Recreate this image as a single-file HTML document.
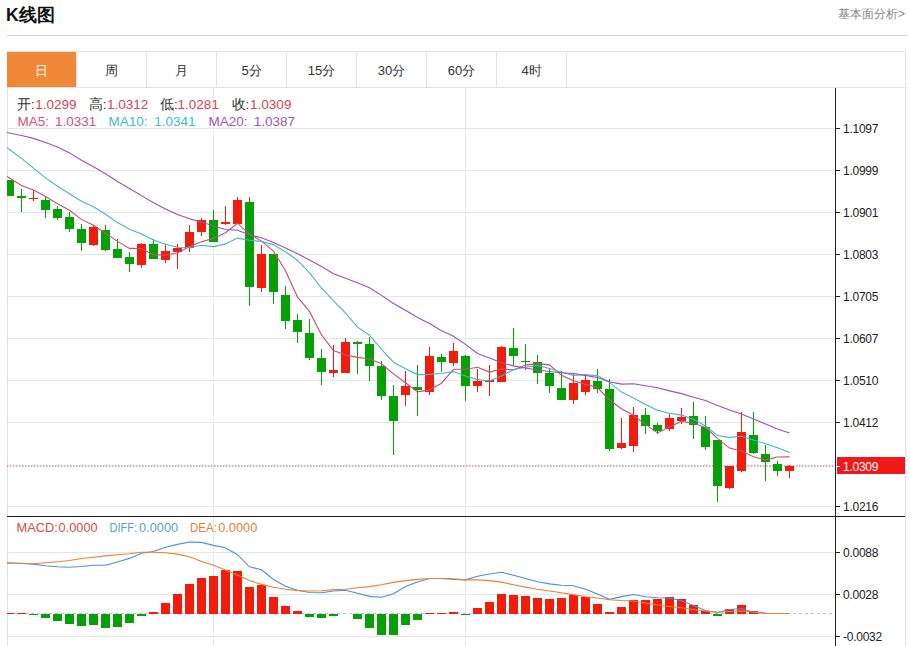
<!DOCTYPE html>
<html><head><meta charset="utf-8"><style>
html,body{margin:0;padding:0;background:#fff;width:910px;height:646px;overflow:hidden;font-family:"Liberation Sans",sans-serif;}
.title{position:absolute;left:6px;top:3px;font-size:17.5px;font-weight:bold;color:#111;line-height:24px;}
.more{position:absolute;right:5px;top:6px;font-size:12px;color:#888;line-height:16px;}
.sep{position:absolute;left:7px;top:35px;width:899px;height:1px;background:#d0d0d0;}
.tabbar{position:absolute;left:7px;top:51px;width:898px;height:35px;border:1px solid #e2e2e2;border-left:none;}
.tab{position:absolute;top:52px;width:69px;height:35px;border-right:1px solid #e2e2e2;text-align:center;line-height:38px;font-size:13px;color:#333;}
.tab.on{background:#f0883a;color:#fff;}
.box{position:absolute;left:7px;top:87px;width:897px;height:600px;border-right:1px solid #e2e2e2;border-left:1px solid #e2e2e2;}
svg{position:absolute;left:0;top:0;}
.ax{font-size:12px;fill:#222;letter-spacing:-0.25px;}
.lg{font-size:13.5px;}
.lm{font-size:12.8px;}
</style></head><body>
<div class="title">K线图</div>
<div class="more">基本面分析&gt;</div>
<div class="sep"></div>
<div class="tabbar"></div>
<div class="tab on" style="left:7px">日</div><div class="tab" style="left:77px">周</div><div class="tab" style="left:147px">月</div><div class="tab" style="left:217px">5分</div><div class="tab" style="left:287px">15分</div><div class="tab" style="left:357px">30分</div><div class="tab" style="left:427px">60分</div><div class="tab" style="left:497px">4时</div>
<div class="box"></div>
<svg width="910" height="646" viewBox="0 0 910 646" font-family="Liberation Sans, sans-serif">
<defs><clipPath id="cp"><rect x="7" y="88" width="828" height="558"/></clipPath></defs>
<g clip-path="url(#cp)">
<line x1="7" y1="128.5" x2="835" y2="128.5" stroke="#e6e6e6" stroke-width="1"/>
<line x1="7" y1="170.5" x2="835" y2="170.5" stroke="#e6e6e6" stroke-width="1"/>
<line x1="7" y1="212.5" x2="835" y2="212.5" stroke="#e6e6e6" stroke-width="1"/>
<line x1="7" y1="254.5" x2="835" y2="254.5" stroke="#e6e6e6" stroke-width="1"/>
<line x1="7" y1="296.5" x2="835" y2="296.5" stroke="#e6e6e6" stroke-width="1"/>
<line x1="7" y1="338.5" x2="835" y2="338.5" stroke="#e6e6e6" stroke-width="1"/>
<line x1="7" y1="380.5" x2="835" y2="380.5" stroke="#e6e6e6" stroke-width="1"/>
<line x1="7" y1="422.5" x2="835" y2="422.5" stroke="#e6e6e6" stroke-width="1"/>
<line x1="7" y1="506.5" x2="835" y2="506.5" stroke="#e6e6e6" stroke-width="1"/>
<line x1="7" y1="552.5" x2="835" y2="552.5" stroke="#e6e6e6" stroke-width="1"/>
<line x1="7" y1="594.5" x2="835" y2="594.5" stroke="#e6e6e6" stroke-width="1"/>
<line x1="7" y1="636.5" x2="835" y2="636.5" stroke="#e6e6e6" stroke-width="1"/>
<line x1="213.5" y1="88" x2="213.5" y2="646" stroke="#e6e6e6" stroke-width="1"/>
<line x1="465.5" y1="88" x2="465.5" y2="646" stroke="#e6e6e6" stroke-width="1"/>
<line x1="7" y1="466" x2="835" y2="466" stroke="#c04858" stroke-width="1" stroke-dasharray="1.5 1.5"/>
<rect x="9.0" y="180" width="1" height="16" fill="#05a005"/>
<rect x="5.0" y="180" width="9" height="16" fill="#05a005"/>
<rect x="21.0" y="189" width="1" height="23" fill="#05a005"/>
<rect x="17.0" y="196" width="9" height="2" fill="#05a005"/>
<rect x="33.0" y="190" width="1" height="11" fill="#f01c0c"/>
<rect x="29.0" y="198" width="9" height="1" fill="#f01c0c"/>
<rect x="45.0" y="197" width="1" height="21" fill="#05a005"/>
<rect x="41.0" y="200" width="9" height="10" fill="#05a005"/>
<rect x="57.0" y="206" width="1" height="14" fill="#05a005"/>
<rect x="53.0" y="209" width="9" height="9" fill="#05a005"/>
<rect x="69.0" y="212" width="1" height="20" fill="#05a005"/>
<rect x="65.0" y="217" width="9" height="12" fill="#05a005"/>
<rect x="81.0" y="224" width="1" height="27" fill="#05a005"/>
<rect x="77.0" y="229" width="9" height="14" fill="#05a005"/>
<rect x="93.0" y="225" width="1" height="21" fill="#f01c0c"/>
<rect x="89.0" y="227" width="9" height="18" fill="#f01c0c"/>
<rect x="105.0" y="225" width="1" height="26" fill="#05a005"/>
<rect x="101.0" y="230" width="9" height="20" fill="#05a005"/>
<rect x="117.0" y="239" width="1" height="19" fill="#05a005"/>
<rect x="113.0" y="249" width="9" height="9" fill="#05a005"/>
<rect x="129.0" y="252" width="1" height="20" fill="#05a005"/>
<rect x="125.0" y="257" width="9" height="7" fill="#05a005"/>
<rect x="141.0" y="243" width="1" height="25" fill="#f01c0c"/>
<rect x="137.0" y="244" width="9" height="21" fill="#f01c0c"/>
<rect x="153.0" y="239" width="1" height="20" fill="#05a005"/>
<rect x="149.0" y="244" width="9" height="15" fill="#05a005"/>
<rect x="165.0" y="244" width="1" height="19" fill="#f01c0c"/>
<rect x="161.0" y="251" width="9" height="9" fill="#f01c0c"/>
<rect x="177.0" y="244" width="1" height="25" fill="#f01c0c"/>
<rect x="173.0" y="248" width="9" height="4" fill="#f01c0c"/>
<rect x="189.0" y="225" width="1" height="27" fill="#f01c0c"/>
<rect x="185.0" y="232" width="9" height="16" fill="#f01c0c"/>
<rect x="201.0" y="218" width="1" height="18" fill="#f01c0c"/>
<rect x="197.0" y="220" width="9" height="12" fill="#f01c0c"/>
<rect x="213.0" y="210" width="1" height="32" fill="#05a005"/>
<rect x="209.0" y="220" width="9" height="22" fill="#05a005"/>
<rect x="225.0" y="206" width="1" height="19" fill="#f01c0c"/>
<rect x="221.0" y="222" width="9" height="2" fill="#f01c0c"/>
<rect x="237.0" y="197" width="1" height="27" fill="#f01c0c"/>
<rect x="233.0" y="200" width="9" height="24" fill="#f01c0c"/>
<rect x="249.0" y="197" width="1" height="109" fill="#05a005"/>
<rect x="245.0" y="202" width="9" height="85" fill="#05a005"/>
<rect x="261.0" y="245" width="1" height="47" fill="#f01c0c"/>
<rect x="257.0" y="254" width="9" height="34" fill="#f01c0c"/>
<rect x="273.0" y="254" width="1" height="50" fill="#05a005"/>
<rect x="269.0" y="254" width="9" height="38" fill="#05a005"/>
<rect x="285.0" y="286" width="1" height="43" fill="#05a005"/>
<rect x="281.0" y="295" width="9" height="26" fill="#05a005"/>
<rect x="297.0" y="314" width="1" height="29" fill="#05a005"/>
<rect x="293.0" y="320" width="9" height="12" fill="#05a005"/>
<rect x="309.0" y="319" width="1" height="41" fill="#05a005"/>
<rect x="305.0" y="333" width="9" height="25" fill="#05a005"/>
<rect x="321.0" y="349" width="1" height="36" fill="#05a005"/>
<rect x="317.0" y="358" width="9" height="14" fill="#05a005"/>
<rect x="333.0" y="345" width="1" height="32" fill="#f01c0c"/>
<rect x="329.0" y="370" width="9" height="3" fill="#f01c0c"/>
<rect x="345.0" y="338" width="1" height="35" fill="#f01c0c"/>
<rect x="341.0" y="342" width="9" height="31" fill="#f01c0c"/>
<rect x="357.0" y="341" width="1" height="33" fill="#05a005"/>
<rect x="353.0" y="342" width="9" height="2" fill="#05a005"/>
<rect x="369.0" y="337" width="1" height="44" fill="#05a005"/>
<rect x="365.0" y="344" width="9" height="22" fill="#05a005"/>
<rect x="381.0" y="361" width="1" height="39" fill="#05a005"/>
<rect x="377.0" y="366" width="9" height="30" fill="#05a005"/>
<rect x="393.0" y="385" width="1" height="70" fill="#05a005"/>
<rect x="389.0" y="396" width="9" height="25" fill="#05a005"/>
<rect x="405.0" y="371" width="1" height="35" fill="#f01c0c"/>
<rect x="401.0" y="386" width="9" height="9" fill="#f01c0c"/>
<rect x="417.0" y="365" width="1" height="51" fill="#05a005"/>
<rect x="413.0" y="387" width="9" height="3" fill="#05a005"/>
<rect x="429.0" y="347" width="1" height="48" fill="#f01c0c"/>
<rect x="425.0" y="356" width="9" height="36" fill="#f01c0c"/>
<rect x="441.0" y="354" width="1" height="18" fill="#05a005"/>
<rect x="437.0" y="357" width="9" height="5" fill="#05a005"/>
<rect x="453.0" y="343" width="1" height="23" fill="#f01c0c"/>
<rect x="449.0" y="351" width="9" height="12" fill="#f01c0c"/>
<rect x="465.0" y="355" width="1" height="46" fill="#05a005"/>
<rect x="461.0" y="356" width="9" height="30" fill="#05a005"/>
<rect x="477.0" y="369" width="1" height="23" fill="#f01c0c"/>
<rect x="473.0" y="381" width="9" height="5" fill="#f01c0c"/>
<rect x="489.0" y="365" width="1" height="31" fill="#f01c0c"/>
<rect x="485.0" y="380" width="9" height="2" fill="#f01c0c"/>
<rect x="501.0" y="346" width="1" height="36" fill="#f01c0c"/>
<rect x="497.0" y="347" width="9" height="35" fill="#f01c0c"/>
<rect x="513.0" y="328" width="1" height="37" fill="#05a005"/>
<rect x="509.0" y="348" width="9" height="8" fill="#05a005"/>
<rect x="525.0" y="344" width="1" height="26" fill="#05a005"/>
<rect x="521.0" y="361" width="9" height="1" fill="#05a005"/>
<rect x="537.0" y="355" width="1" height="29" fill="#05a005"/>
<rect x="533.0" y="362" width="9" height="11" fill="#05a005"/>
<rect x="549.0" y="368" width="1" height="25" fill="#05a005"/>
<rect x="545.0" y="373" width="9" height="13" fill="#05a005"/>
<rect x="561.0" y="371" width="1" height="29" fill="#05a005"/>
<rect x="557.0" y="388" width="9" height="12" fill="#05a005"/>
<rect x="573.0" y="374" width="1" height="30" fill="#f01c0c"/>
<rect x="569.0" y="383" width="9" height="17" fill="#f01c0c"/>
<rect x="585.0" y="374" width="1" height="21" fill="#f01c0c"/>
<rect x="581.0" y="380" width="9" height="12" fill="#f01c0c"/>
<rect x="597.0" y="369" width="1" height="24" fill="#05a005"/>
<rect x="593.0" y="381" width="9" height="8" fill="#05a005"/>
<rect x="609.0" y="379" width="1" height="72" fill="#05a005"/>
<rect x="605.0" y="389" width="9" height="60" fill="#05a005"/>
<rect x="621.0" y="418" width="1" height="31" fill="#f01c0c"/>
<rect x="617.0" y="443" width="9" height="5" fill="#f01c0c"/>
<rect x="633.0" y="407" width="1" height="45" fill="#f01c0c"/>
<rect x="629.0" y="415" width="9" height="31" fill="#f01c0c"/>
<rect x="645.0" y="408" width="1" height="26" fill="#05a005"/>
<rect x="641.0" y="415" width="9" height="11" fill="#05a005"/>
<rect x="657.0" y="423" width="1" height="11" fill="#05a005"/>
<rect x="653.0" y="425" width="9" height="6" fill="#05a005"/>
<rect x="669.0" y="414" width="1" height="17" fill="#f01c0c"/>
<rect x="665.0" y="418" width="9" height="11" fill="#f01c0c"/>
<rect x="681.0" y="408" width="1" height="16" fill="#f01c0c"/>
<rect x="677.0" y="417" width="9" height="4" fill="#f01c0c"/>
<rect x="693.0" y="402" width="1" height="37" fill="#05a005"/>
<rect x="689.0" y="416" width="9" height="9" fill="#05a005"/>
<rect x="705.0" y="416" width="1" height="34" fill="#05a005"/>
<rect x="701.0" y="427" width="9" height="20" fill="#05a005"/>
<rect x="717.0" y="440" width="1" height="62" fill="#05a005"/>
<rect x="713.0" y="440" width="9" height="46" fill="#05a005"/>
<rect x="729.0" y="466" width="1" height="23" fill="#f01c0c"/>
<rect x="725.0" y="466" width="9" height="22" fill="#f01c0c"/>
<rect x="741.0" y="412" width="1" height="60" fill="#f01c0c"/>
<rect x="737.0" y="432" width="9" height="39" fill="#f01c0c"/>
<rect x="753.0" y="412" width="1" height="42" fill="#05a005"/>
<rect x="749.0" y="435" width="9" height="18" fill="#05a005"/>
<rect x="765.0" y="445" width="1" height="36" fill="#05a005"/>
<rect x="761.0" y="454" width="9" height="8" fill="#05a005"/>
<rect x="777.0" y="461" width="1" height="15" fill="#05a005"/>
<rect x="773.0" y="464" width="9" height="7" fill="#05a005"/>
<rect x="789.0" y="465" width="1" height="13" fill="#f01c0c"/>
<rect x="785.0" y="466" width="9" height="5" fill="#f01c0c"/>
<polyline points="7,176.4 9.5,178.0 21.5,185.5 33.5,190.0 45.5,196.5 57.5,203.8 69.5,210.3 81.5,219.4 93.5,225.3 105.5,233.3 117.5,241.4 129.5,248.4 141.5,248.5 153.5,254.9 165.5,255.0 177.5,253.0 189.5,246.6 201.5,241.8 213.5,238.4 225.5,232.8 237.5,223.2 249.5,234.1 261.5,241.1 273.5,251.1 285.5,270.8 297.5,297.1 309.5,311.4 321.5,334.9 333.5,350.6 345.5,354.9 357.5,357.4 369.5,359.0 381.5,363.8 393.5,373.9 405.5,382.7 417.5,391.9 429.5,389.9 441.5,383.2 453.5,369.3 465.5,369.2 477.5,367.3 489.5,372.1 501.5,369.0 513.5,369.9 525.5,365.1 537.5,363.6 549.5,364.9 561.5,375.3 573.5,380.8 585.5,384.4 597.5,387.5 609.5,400.0 621.5,408.8 633.5,415.2 645.5,424.4 657.5,432.9 669.5,426.7 681.5,421.4 693.5,423.3 705.5,427.5 717.5,438.4 729.5,448.1 741.5,451.0 753.5,456.7 765.5,459.9 777.5,457.0 789.5,456.9" fill="none" stroke="#cc4c74" stroke-width="1.1"/>
<polyline points="7,147.6 9.5,149.5 21.5,158.4 33.5,168.1 45.5,177.9 57.5,186.3 69.5,193.7 81.5,201.2 93.5,206.7 105.5,214.2 117.5,222.6 129.5,229.3 141.5,234.0 153.5,240.1 165.5,244.2 177.5,247.2 189.5,247.5 201.5,245.2 213.5,246.6 225.5,243.9 237.5,238.1 249.5,240.3 261.5,241.4 273.5,244.7 285.5,251.8 297.5,260.2 309.5,272.8 321.5,288.0 333.5,300.8 345.5,312.8 357.5,327.2 369.5,335.2 381.5,349.3 393.5,362.2 405.5,368.8 417.5,374.6 429.5,374.4 441.5,373.5 453.5,371.6 465.5,376.0 477.5,379.6 489.5,381.0 501.5,376.1 513.5,369.6 525.5,367.2 537.5,365.4 549.5,368.5 561.5,372.2 573.5,375.4 585.5,374.7 597.5,375.6 609.5,382.4 621.5,392.1 633.5,398.0 645.5,404.4 657.5,410.2 669.5,413.3 681.5,415.1 693.5,419.3 705.5,426.0 717.5,435.6 729.5,437.4 741.5,436.2 753.5,440.0 765.5,443.7 777.5,447.7 789.5,452.5" fill="none" stroke="#46b4c8" stroke-width="1.1"/>
<polyline points="7,132.5 9.5,133.0 21.5,135.5 33.5,138.4 45.5,142.6 57.5,146.9 69.5,152.9 81.5,160.3 93.5,166.8 105.5,173.7 117.5,181.5 129.5,188.5 141.5,195.6 153.5,202.8 165.5,209.0 177.5,214.5 189.5,218.8 201.5,222.1 213.5,226.0 225.5,229.5 237.5,230.3 249.5,234.8 261.5,237.7 273.5,242.4 285.5,248.0 297.5,253.7 309.5,260.1 321.5,266.6 333.5,273.7 345.5,278.3 357.5,282.7 369.5,287.8 381.5,295.4 393.5,303.5 405.5,310.3 417.5,317.4 429.5,323.6 441.5,330.7 453.5,336.2 465.5,344.4 477.5,353.4 489.5,358.1 501.5,362.7 513.5,365.9 525.5,368.0 537.5,370.0 549.5,371.5 561.5,372.8 573.5,373.5 585.5,375.4 597.5,377.6 609.5,381.7 621.5,384.1 633.5,383.8 645.5,385.8 657.5,387.8 669.5,390.9 681.5,393.6 693.5,397.3 705.5,400.4 717.5,405.6 729.5,409.9 741.5,414.1 753.5,419.0 765.5,424.0 777.5,428.9 789.5,432.9" fill="none" stroke="#a04eb2" stroke-width="1.1"/>
<line x1="7" y1="613.5" x2="835" y2="613.5" stroke="#b0c4d8" stroke-width="1" stroke-dasharray="3 3"/>
<rect x="5.0" y="613" width="9" height="1" fill="#f01c0c"/>
<rect x="17.0" y="613" width="9" height="1" fill="#f01c0c"/>
<rect x="29.0" y="614" width="9" height="1" fill="#05a005"/>
<rect x="41.0" y="614" width="9" height="4" fill="#05a005"/>
<rect x="53.0" y="614" width="9" height="7" fill="#05a005"/>
<rect x="65.0" y="614" width="9" height="10" fill="#05a005"/>
<rect x="77.0" y="614" width="9" height="12" fill="#05a005"/>
<rect x="89.0" y="614" width="9" height="11" fill="#05a005"/>
<rect x="101.0" y="614" width="9" height="14" fill="#05a005"/>
<rect x="113.0" y="614" width="9" height="13" fill="#05a005"/>
<rect x="125.0" y="614" width="9" height="9" fill="#05a005"/>
<rect x="137.0" y="614" width="9" height="2" fill="#05a005"/>
<rect x="149.0" y="612" width="9" height="2" fill="#f01c0c"/>
<rect x="161.0" y="603" width="9" height="11" fill="#f01c0c"/>
<rect x="173.0" y="594" width="9" height="20" fill="#f01c0c"/>
<rect x="185.0" y="584" width="9" height="30" fill="#f01c0c"/>
<rect x="197.0" y="578" width="9" height="36" fill="#f01c0c"/>
<rect x="209.0" y="576" width="9" height="38" fill="#f01c0c"/>
<rect x="221.0" y="570" width="9" height="44" fill="#f01c0c"/>
<rect x="233.0" y="571" width="9" height="43" fill="#f01c0c"/>
<rect x="245.0" y="587" width="9" height="27" fill="#f01c0c"/>
<rect x="257.0" y="585" width="9" height="29" fill="#f01c0c"/>
<rect x="269.0" y="597" width="9" height="17" fill="#f01c0c"/>
<rect x="281.0" y="606" width="9" height="8" fill="#f01c0c"/>
<rect x="293.0" y="611" width="9" height="3" fill="#f01c0c"/>
<rect x="305.0" y="614" width="9" height="3" fill="#05a005"/>
<rect x="317.0" y="614" width="9" height="4" fill="#05a005"/>
<rect x="329.0" y="614" width="9" height="2" fill="#05a005"/>
<rect x="353.0" y="614" width="9" height="5" fill="#05a005"/>
<rect x="365.0" y="614" width="9" height="14" fill="#05a005"/>
<rect x="377.0" y="614" width="9" height="21" fill="#05a005"/>
<rect x="389.0" y="614" width="9" height="21" fill="#05a005"/>
<rect x="401.0" y="614" width="9" height="11" fill="#05a005"/>
<rect x="413.0" y="614" width="9" height="6" fill="#05a005"/>
<rect x="425.0" y="613" width="9" height="1" fill="#f01c0c"/>
<rect x="437.0" y="613" width="9" height="1" fill="#f01c0c"/>
<rect x="449.0" y="612" width="9" height="2" fill="#f01c0c"/>
<rect x="461.0" y="614" width="9" height="1" fill="#05a005"/>
<rect x="473.0" y="608" width="9" height="6" fill="#f01c0c"/>
<rect x="485.0" y="602" width="9" height="12" fill="#f01c0c"/>
<rect x="497.0" y="594" width="9" height="20" fill="#f01c0c"/>
<rect x="509.0" y="595" width="9" height="19" fill="#f01c0c"/>
<rect x="521.0" y="596" width="9" height="18" fill="#f01c0c"/>
<rect x="533.0" y="598" width="9" height="16" fill="#f01c0c"/>
<rect x="545.0" y="599" width="9" height="15" fill="#f01c0c"/>
<rect x="557.0" y="598" width="9" height="16" fill="#f01c0c"/>
<rect x="569.0" y="595" width="9" height="19" fill="#f01c0c"/>
<rect x="581.0" y="597" width="9" height="17" fill="#f01c0c"/>
<rect x="593.0" y="604" width="9" height="10" fill="#f01c0c"/>
<rect x="605.0" y="612" width="9" height="2" fill="#f01c0c"/>
<rect x="617.0" y="607" width="9" height="7" fill="#f01c0c"/>
<rect x="629.0" y="600" width="9" height="14" fill="#f01c0c"/>
<rect x="641.0" y="600" width="9" height="14" fill="#f01c0c"/>
<rect x="653.0" y="599" width="9" height="15" fill="#f01c0c"/>
<rect x="665.0" y="597" width="9" height="17" fill="#f01c0c"/>
<rect x="677.0" y="599" width="9" height="15" fill="#f01c0c"/>
<rect x="689.0" y="605" width="9" height="9" fill="#f01c0c"/>
<rect x="701.0" y="611" width="9" height="3" fill="#f01c0c"/>
<rect x="713.0" y="614" width="9" height="2" fill="#05a005"/>
<rect x="725.0" y="609" width="9" height="5" fill="#f01c0c"/>
<rect x="737.0" y="605" width="9" height="9" fill="#f01c0c"/>
<rect x="749.0" y="611" width="9" height="3" fill="#f01c0c"/>
<polyline points="7,562.9 9.5,563.0 21.5,563.5 33.5,564.3 45.5,565.8 57.5,566.8 69.5,567.3 81.5,566.5 93.5,565.2 105.5,565.2 117.5,562.0 129.5,558.4 141.5,553.2 153.5,551.5 165.5,547.3 177.5,544.4 189.5,542.0 201.5,542.4 213.5,545.4 225.5,547.7 237.5,554.7 249.5,566.8 261.5,569.8 273.5,579.5 285.5,586.3 297.5,590.2 309.5,592.5 321.5,592.8 333.5,591.0 345.5,590.2 357.5,593.2 369.5,596.4 381.5,597.3 393.5,593.7 405.5,586.6 417.5,582.0 429.5,578.5 441.5,578.5 453.5,579.4 465.5,579.9 477.5,576.3 489.5,574.0 501.5,572.2 513.5,575.3 525.5,578.5 537.5,581.7 549.5,583.9 561.5,585.3 573.5,585.7 585.5,589.3 597.5,594.0 609.5,599.3 621.5,596.6 633.5,594.5 645.5,596.8 657.5,597.7 669.5,598.0 681.5,600.8 693.5,605.5 705.5,610.5 717.5,612.6 729.5,609.5 741.5,608.8 753.5,612.0 765.5,613.3 777.5,613.5 789.5,613.5" fill="none" stroke="#4a90e2" stroke-width="1.1"/>
<polyline points="7,562.9 9.5,563.0 21.5,563.3 33.5,563.7 45.5,562.8 57.5,561.7 69.5,560.5 81.5,558.5 93.5,557.3 105.5,555.9 117.5,554.8 129.5,553.7 141.5,552.2 153.5,552.3 165.5,552.8 177.5,554.1 189.5,556.7 201.5,561.4 213.5,565.3 225.5,570.1 237.5,575.0 249.5,580.5 261.5,584.4 273.5,587.3 285.5,589.3 297.5,590.6 309.5,591.0 321.5,590.7 333.5,589.6 345.5,589.3 357.5,587.8 369.5,586.6 381.5,584.8 393.5,582.4 405.5,580.6 417.5,579.4 429.5,578.5 441.5,578.5 453.5,578.8 465.5,579.9 477.5,579.9 489.5,580.6 501.5,582.1 513.5,584.8 525.5,587.1 537.5,589.3 549.5,591.0 561.5,592.8 573.5,594.6 585.5,596.8 597.5,598.0 609.5,599.7 621.5,600.5 633.5,601.0 645.5,603.0 657.5,605.0 669.5,606.5 681.5,607.8 693.5,609.5 705.5,611.0 717.5,612.2 729.5,611.5 741.5,611.0 753.5,612.0 765.5,613.3 777.5,613.5 789.5,613.5" fill="none" stroke="#f08030" stroke-width="1.1"/>
</g>
<rect x="835" y="88" width="1" height="558" fill="#222"/>
<rect x="7" y="516" width="898" height="1" fill="#222"/>
<rect x="836" y="128" width="4" height="1" fill="#222"/>
<text x="843" y="132.5" class="ax">1.1097</text>
<rect x="836" y="170" width="4" height="1" fill="#222"/>
<text x="843" y="174.5" class="ax">1.0999</text>
<rect x="836" y="212" width="4" height="1" fill="#222"/>
<text x="843" y="216.5" class="ax">1.0901</text>
<rect x="836" y="254" width="4" height="1" fill="#222"/>
<text x="843" y="258.5" class="ax">1.0803</text>
<rect x="836" y="296" width="4" height="1" fill="#222"/>
<text x="843" y="300.5" class="ax">1.0705</text>
<rect x="836" y="338" width="4" height="1" fill="#222"/>
<text x="843" y="342.5" class="ax">1.0607</text>
<rect x="836" y="380" width="4" height="1" fill="#222"/>
<text x="843" y="384.5" class="ax">1.0510</text>
<rect x="836" y="422" width="4" height="1" fill="#222"/>
<text x="843" y="426.5" class="ax">1.0412</text>
<rect x="836" y="506" width="4" height="1" fill="#222"/>
<text x="843" y="510.5" class="ax">1.0216</text>
<rect x="836" y="552" width="4" height="1" fill="#222"/>
<text x="843" y="556.5" class="ax">0.0088</text>
<rect x="836" y="594" width="4" height="1" fill="#222"/>
<text x="843" y="598.5" class="ax">0.0028</text>
<rect x="836" y="636" width="4" height="1" fill="#222"/>
<text x="843" y="640.5" class="ax">-0.0032</text>
<rect x="837" y="457" width="68" height="17" fill="#f01818"/>
<rect x="836" y="466" width="4" height="1" fill="#fff"/>
<text x="843" y="470.5" class="ax" style="fill:#fff">1.0309</text>
<text x="17" y="108.5" class="lg" style="fill:#333">开:</text>
<text x="35.3" y="108.5" class="lg" style="fill:#d9434f">1.0299</text>
<text x="88.8" y="108.5" class="lg" style="fill:#333">高:</text>
<text x="106.9" y="108.5" class="lg" style="fill:#d9434f">1.0312</text>
<text x="160" y="108.5" class="lg" style="fill:#333">低:</text>
<text x="177.6" y="108.5" class="lg" style="fill:#d9434f">1.0281</text>
<text x="231.6" y="108.5" class="lg" style="fill:#333">收:</text>
<text x="250.1" y="108.5" class="lg" style="fill:#d9434f">1.0309</text>
<text x="17.5" y="126" class="lg" style="fill:#d9507a">MA5:</text>
<text x="54.9" y="126" class="lg" style="fill:#d9507a">1.0331</text>
<text x="108.5" y="126" class="lg" style="fill:#40bcd0">MA10:</text>
<text x="154.3" y="126" class="lg" style="fill:#40bcd0">1.0341</text>
<text x="208.5" y="126" class="lg" style="fill:#a553b8">MA20:</text>
<text x="253.8" y="126" class="lg" style="fill:#a553b8">1.0387</text>
<text x="16.5" y="532" class="lm" style="fill:#e04848">MACD:</text>
<text x="58.5" y="532" class="lm" style="fill:#e04848">0.0000</text>
<text x="109.5" y="532" class="lm" style="fill:#5a9ee0" textLength="27.5" lengthAdjust="spacingAndGlyphs">DIFF:</text>
<text x="139" y="532" class="lm" style="fill:#5a9ee0">0.0000</text>
<text x="190" y="532" class="lm" style="fill:#e8803a" textLength="27" lengthAdjust="spacingAndGlyphs">DEA:</text>
<text x="218.2" y="532" class="lm" style="fill:#e8803a">0.0000</text>
</svg>
</body></html>
